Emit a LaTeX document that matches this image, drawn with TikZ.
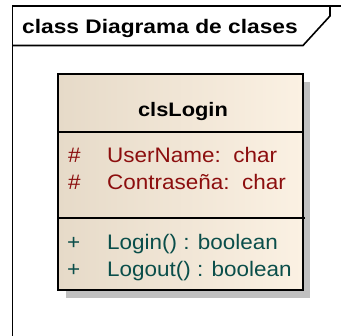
\documentclass[tikz,border=0pt]{standalone}
\usepackage{fontspec}
\setmainfont{Liberation Sans}
\newfontfamily\titlefont[FakeStretch=1.16]{Liberation Sans}
\newfontfamily\clsfont[FakeStretch=1.12]{Liberation Sans}
\newfontfamily\memfont[FakeStretch=1.07]{Liberation Sans}
\definecolor{boxL}{RGB}{230,218,200}
\definecolor{boxM}{RGB}{247,236,221}
\definecolor{boxR}{RGB}{251,241,227}
\definecolor{shadowgray}{RGB}{192,192,192}
\definecolor{attrred}{RGB}{140,14,14}
\definecolor{opteal}{RGB}{10,78,74}
\begin{document}
\begin{tikzpicture}[x=1pt,y=-1pt,
  frameline/.style={line width=1.6pt,black},
  boxline/.style={line width=1.6pt,black},
  divline/.style={line width=1.3pt,black},
  txt/.style={inner sep=0pt,anchor=base west},
  titletxt/.style={txt,font=\titlefont\bfseries\fontsize{19.6}{20}\selectfont},
  clstxt/.style={inner sep=0pt,anchor=base,font=\clsfont\bfseries\fontsize{19.5}{20}\selectfont},
  attrtxt/.style={txt,text=attrred,font=\memfont\fontsize{21}{22}\selectfont},
  optxt/.style={txt,text=opteal,font=\memfont\fontsize{21}{22}\selectfont}]
\useasboundingbox[fill=white] (0,0) rectangle (341,336);
% frame
\draw[frameline] (12.5,337) -- (12.5,6) -- (342,6);
\draw[frameline] (12.5,45.5) -- (303,45.5) -- (330,16) -- (330,6);
\node[titletxt] (title) at (22,34) {class Diagrama de clases};
% class box
\fill[shadowgray] (66,82) rectangle (310,298);
\shade[left color=boxL,middle color=boxM,right color=boxR] (58,74) rectangle (303,290);
\draw[boxline] (58,74) rectangle (303,290);
\draw[divline] (58,132) -- (303,132);
\draw[divline] (58,218) -- (305,218);
\node[clstxt] (cls) at (183,117) {clsLogin};
\node[attrtxt] (a1v) at (68,163) {\#};
\node[attrtxt] (a1) at (107,163) {UserName:\ \ char};
\node[attrtxt] (a2v) at (68,190) {\#};
\node[attrtxt] (a2) at (107,190) {Contraseña:\ \ char};
\node[optxt] (o1v) at (67,250) {+};
\node[optxt] (o1) at (107,250) {Login() : boolean};
\node[optxt] (o2v) at (67,277) {+};
\node[optxt] (o2) at (107,277) {Logout() : boolean};
\end{tikzpicture}
\end{document}
